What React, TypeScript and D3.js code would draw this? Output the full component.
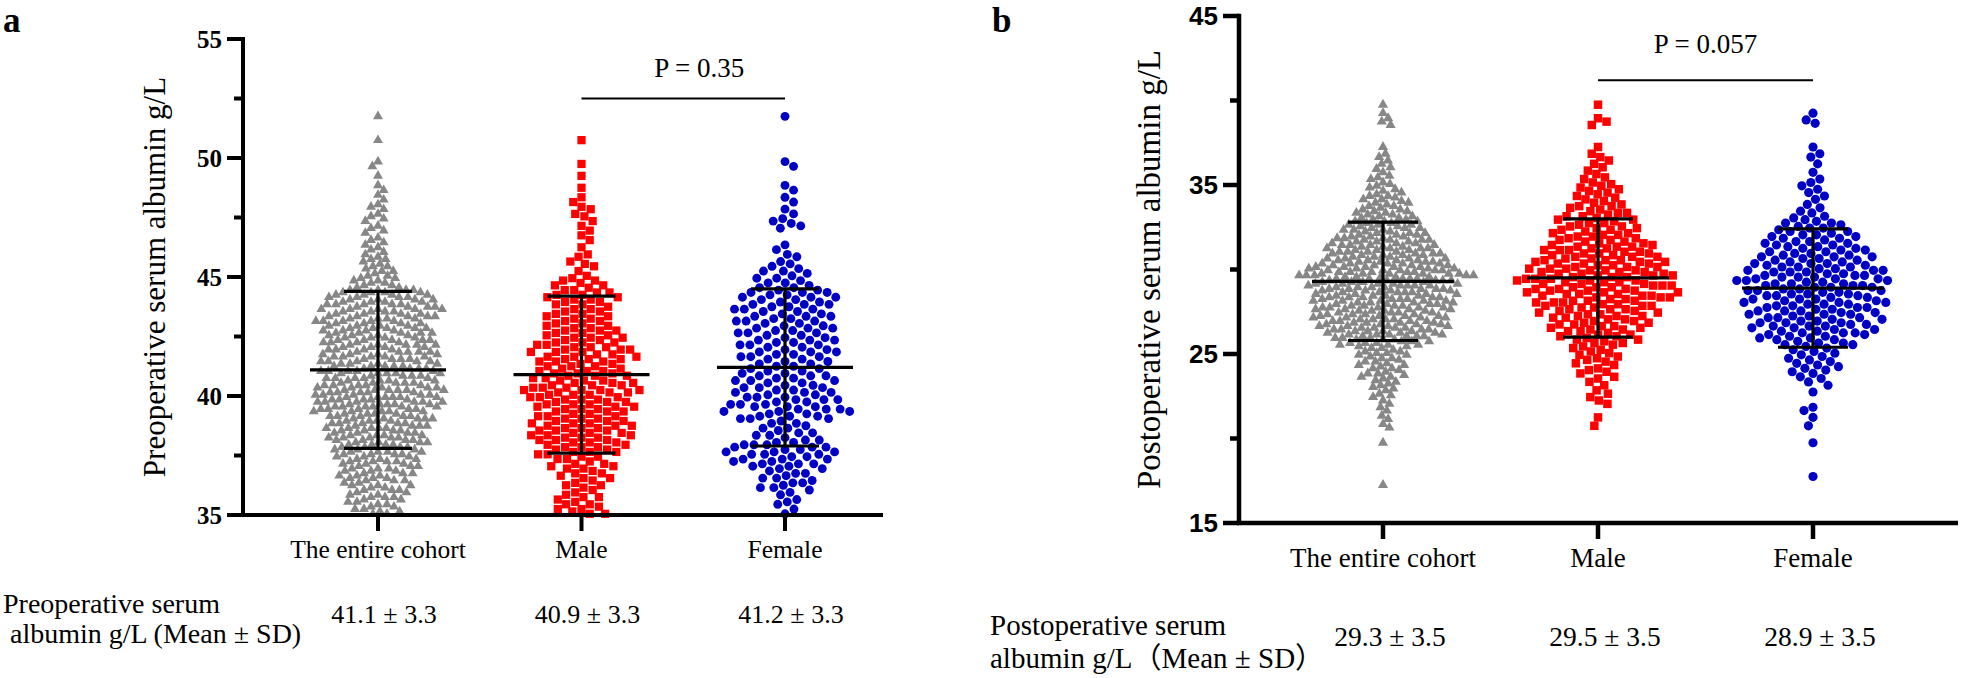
import React from 'react';
import * as d3 from 'd3';

// ---------- data ----------
const groups = ['The entire cohort', 'Male', 'Female'];
const BIN = 0.5; // g/L per histogram bin (counts)

// Preoperative (panel a) point counts per 0.5 g/L bin, starting at *Start
const preCohortStart = 35;
const preCohortCounts = [10, 11, 13, 15, 16, 19, 21, 22, 24, 28, 26, 23, 23, 22, 22, 22, 22, 22, 20, 10, 8, 6, 5, 4, 4, 4, 3, 2, 1, 2, 0, 1, 0, 1];
const preMaleStart = 35;
const preMaleCounts = [8, 6, 6, 8, 9, 12, 15, 15, 14, 15, 16, 14, 13, 14, 13, 11, 10, 9, 10, 7, 3, 4, 1, 3, 2, 4, 2, 1, 1, 1, 0, 1];
const preFemaleStart = 35;
const preFemaleCounts = [3, 4, 7, 8, 12, 14, 9, 7, 14, 14, 12, 12, 10, 12, 12, 12, 12, 12, 12, 8, 6, 4, 2, 0, 5, 2, 2, 2, 0, 2, 0, 0, 0, 1];

// Postoperative (panel b)
const postCohortStart = 17;
const postCohortCounts = [1, 0, 0, 0, 0, 1, 0, 2, 2, 2, 3, 4, 5, 7, 7, 8, 9, 15, 19, 20, 20, 21, 22, 22, 24, 26, 22, 19, 18, 16, 14, 12, 10, 8, 7, 5, 4, 3, 3, 2, 1, 0, 0, 3, 1, 1];
const postMaleStart = 20.5;
const postMaleCounts = [1, 1, 0, 3, 2, 2, 4, 4, 5, 5, 7, 9, 10, 11, 12, 14, 15, 15, 15, 14, 13, 12, 10, 9, 8, 7, 6, 5, 5, 4, 2, 3, 2, 1, 0, 0, 3, 0, 1];
const postFemaleStart = 17.5;
const postFemaleCounts = [1, 0, 0, 0, 1, 0, 1, 1, 2, 0, 1, 2, 4, 5, 5, 5, 9, 11, 12, 12, 13, 13, 13, 14, 14, 12, 11, 10, 9, 8, 6, 4, 2, 2, 3, 2, 1, 1, 2, 1, 0, 0, 2, 1];

const preMeans = [41.1, 40.9, 41.2];
const preSDs = [3.3, 3.3, 3.3];
const postMeans = [29.3, 29.5, 28.9];
const postSDs = [3.5, 3.5, 3.5];

const preTicks = [35, 40, 45, 50, 55];
const preMinorTicks = [37.5, 42.5, 47.5, 52.5];
const postTicks = [15, 25, 35, 45];
const postMinorTicks = [20, 30, 40];

const preStatLabels = ['41.1 ± 3.3', '40.9 ± 3.3', '41.2 ± 3.3'];
const postStatLabels = ['29.3 ± 3.5', '29.5 ± 3.5', '28.9 ± 3.5'];
const preP = 'P = 0.35';
const postP = 'P = 0.057';

// ---------- helpers ----------
function expand(start: number, counts: number[]): number[] {
  const vals: number[] = [];
  counts.forEach((n, i) => {
    const lo = start + i * BIN;
    for (let j = 0; j < n; j++) {
      const k = Math.floor(((j + 0.5) * 5) / n);
      vals.push(lo + 0.1 * k + 0.05);
    }
  });
  return vals;
}

function swarm(ys: number[], d: number): number[] {
  const idx = ys.map((_, i) => i).sort((a, b) => ys[a] - ys[b]);
  const placed: { x: number; y: number }[] = [];
  const xs = new Array(ys.length).fill(0);
  let flip = 1;
  for (const i of idx) {
    const y = ys[i];
    const near = placed.filter((p) => Math.abs(p.y - y) < d);
    const cands = [0];
    for (const p of near) {
      const dx = Math.sqrt(d * d - (p.y - y) * (p.y - y));
      cands.push(p.x + dx, p.x - dx);
    }
    let best = Infinity;
    let bx = 0;
    for (const c of cands) {
      const a = Math.abs(c);
      if (a > best + 1e-6) continue;
      let ok = true;
      for (const p of near) {
        if ((p.x - c) * (p.x - c) + (p.y - y) * (p.y - y) < d * d - 1e-3) {
          ok = false;
          break;
        }
      }
      if (!ok) continue;
      if (a < best - 1e-6 || Math.sign(c) === flip) {
        best = a;
        bx = c;
      }
    }
    flip = -flip;
    xs[i] = bx;
    placed.push({ x: bx, y });
  }
  return xs;
}

const SERIF = "'Liberation Serif', 'Times New Roman', 'Noto Sans CJK SC', serif";
const SANS = "'Liberation Sans', Arial, sans-serif";

type PanelCfg = {
  yDomain: [number, number];
  yRange: [number, number];
  axisX: number;
  axisRight: number;
  xRange: [number, number];
  ticks: number[];
  minor: number[];
  tickFont: string;
  tickSize: number;
  tickLabelRight: number;
  series: { start: number; counts: number[] }[];
  means: number[];
  sds: number[];
  meanHalf: number;
  capHalf: number;
  dists: number[];
  sizes: number[];
  statLabels: string[];
  statY: number;
  statDx: number;
  pText: string;
  pLineVal: number;
  pTextVal: number;
  pTextDx: number;
  groupLabelY: number;
  groupFont: number;
  yLabel: string;
  yLabelX: number;
  yLabelFont: number;
  axisW: number;
};

const colors = ['#878787', '#ff0000', '#0000c4'];
const shapes = [d3.symbolTriangle, d3.symbolSquare, d3.symbolCircle];

function Panel({ c }: { c: PanelCfg }) {
  const y = d3.scaleLinear().domain(c.yDomain).range(c.yRange);
  const x = d3.scalePoint<string>().domain(groups).range(c.xRange);
  const [y0, y1] = c.yRange; // bottom, top
  const points = c.series.map((s, gi) => {
    const vals = expand(s.start, s.counts);
    const ys = vals.map((v) => y(v));
    const xs = swarm(ys, c.dists[gi]);
    const path = d3.symbol().type(shapes[gi]).size(c.sizes[gi])() as string;
    return { ys, xs, path, gi };
  });
  const midY = (y0 + y1) / 2;
  return (
    <g>
      {points.map((p) => (
        <g key={p.gi} fill={colors[p.gi]}>
          {p.ys.map((yy, i) => (
            <path key={i} d={p.path} transform={`translate(${(x(groups[p.gi]) as number) + p.xs[i]},${yy})`} />
          ))}
        </g>
      ))}
      {/* error bars */}
      {groups.map((g, gi) => {
        const cx = x(g) as number;
        const m = c.means[gi];
        const s = c.sds[gi];
        return (
          <g key={g} stroke="#000" strokeWidth={3.2}>
            <line x1={cx} x2={cx} y1={y(m - s)} y2={y(m + s)} />
            <line x1={cx - c.meanHalf} x2={cx + c.meanHalf} y1={y(m)} y2={y(m)} />
            <line x1={cx - c.capHalf} x2={cx + c.capHalf} y1={y(m + s)} y2={y(m + s)} />
            <line x1={cx - c.capHalf} x2={cx + c.capHalf} y1={y(m - s)} y2={y(m - s)} />
          </g>
        );
      })}
      {/* axes */}
      <g stroke="#000" strokeWidth={c.axisW}>
        <line x1={c.axisX} x2={c.axisX} y1={y1 - c.axisW / 2} y2={y0} />
        <line x1={c.axisX - c.axisW / 2} x2={c.axisRight} y1={y0} y2={y0} />
        {c.ticks.map((t) => (
          <line key={t} x1={c.axisX - 16} x2={c.axisX} y1={y(t)} y2={y(t)} />
        ))}
        {c.minor.map((t) => (
          <line key={t} x1={c.axisX - 9} x2={c.axisX} y1={y(t)} y2={y(t)} />
        ))}
        {groups.map((g) => (
          <line key={g} x1={x(g) as number} x2={x(g) as number} y1={y0} y2={y0 + 16} />
        ))}
      </g>
      {c.ticks.map((t) => (
        <text key={t} x={c.tickLabelRight} y={y(t)} dy="0.35em" textAnchor="end" fontFamily={c.tickFont} fontWeight="bold" fontSize={c.tickSize}>
          {t}
        </text>
      ))}
      {groups.map((g) => (
        <text key={g} x={x(g) as number} y={c.groupLabelY} textAnchor="middle" fontFamily={SERIF} fontSize={c.groupFont}>
          {g}
        </text>
      ))}
      <text transform={`translate(${c.yLabelX},${midY}) rotate(-90)`} textAnchor="middle" fontFamily={SERIF} fontSize={c.yLabelFont}>
        {c.yLabel}
      </text>
      {/* P value */}
      <line x1={x('Male') as number} x2={x('Female') as number} y1={y(c.pLineVal)} y2={y(c.pLineVal)} stroke="#000" strokeWidth={2} />
      <text x={((x('Male') as number) + (x('Female') as number)) / 2 + c.pTextDx} y={y(c.pTextVal)} textAnchor="middle" fontFamily={SERIF} fontSize={27}>
        {c.pText}
      </text>
      {/* stats row */}
      {groups.map((g, gi) => (
        <text key={g} x={(x(g) as number) + c.statDx} y={c.statY} textAnchor="middle" fontFamily={SERIF} fontSize={c.groupFont + 0.5}>
          {c.statLabels[gi]}
        </text>
      ))}
    </g>
  );
}

const panelA: PanelCfg = {
  yDomain: [35, 55],
  yRange: [515, 39],
  axisX: 243,
  axisRight: 883,
  xRange: [378, 785],
  ticks: preTicks,
  minor: preMinorTicks,
  tickFont: SERIF,
  tickSize: 25,
  tickLabelRight: 222,
  series: [
    { start: preCohortStart, counts: preCohortCounts },
    { start: preMaleStart, counts: preMaleCounts },
    { start: preFemaleStart, counts: preFemaleCounts },
  ],
  means: preMeans,
  sds: preSDs,
  meanHalf: 68,
  capHalf: 34,
  dists: [7.4, 9.5, 9.8],
  sizes: [43, 68, 62],
  statLabels: preStatLabels,
  statY: 623,
  statDx: 6,
  pText: preP,
  pLineVal: 52.5,
  pTextVal: 53.4,
  pTextDx: 16,
  groupLabelY: 558,
  groupFont: 25.5,
  yLabel: 'Preoperative serum albumin g/L',
  yLabelX: 165,
  yLabelFont: 31,
  axisW: 4,
};

const panelB: PanelCfg = {
  yDomain: [15, 45],
  yRange: [523, 16],
  axisX: 1239,
  axisRight: 1958,
  xRange: [1383, 1813],
  ticks: postTicks,
  minor: postMinorTicks,
  tickFont: SANS,
  tickSize: 26,
  tickLabelRight: 1218,
  series: [
    { start: postCohortStart, counts: postCohortCounts },
    { start: postMaleStart, counts: postMaleCounts },
    { start: postFemaleStart, counts: postFemaleCounts },
  ],
  means: postMeans,
  sds: postSDs,
  meanHalf: 71,
  capHalf: 35,
  dists: [7.2, 9.2, 9.6],
  sizes: [45, 72, 66],
  statLabels: postStatLabels,
  statY: 646,
  statDx: 7,
  pText: postP,
  pLineVal: 41.2,
  pTextVal: 42.8,
  pTextDx: 0,
  groupLabelY: 567,
  groupFont: 27,
  yLabel: 'Postoperative serum albumin g/L',
  yLabelX: 1160,
  yLabelFont: 33,
  axisW: 4.5,
};

export default function App() {
  return (
    <svg
      width={1961}
      height={678}
      viewBox="0 0 1961 678"
      style={{ position: 'absolute', left: 0, top: 0, background: '#fff' }}
    >
      <rect width={1961} height={678} fill="#fff" />
      <text x={3} y={32} fontFamily={SERIF} fontWeight="bold" fontSize={35}>a</text>
      <text x={992} y={32} fontFamily={SERIF} fontWeight="bold" fontSize={35}>b</text>
      <Panel c={panelA} />
      <Panel c={panelB} />
      <text fontFamily={SERIF} fontSize={28}>
        <tspan x={3} y={613}>Preoperative serum</tspan>
        <tspan x={10} y={643}>albumin g/L (Mean ± SD)</tspan>
      </text>
      <text fontFamily={SERIF} fontSize={29}>
        <tspan x={990} y={635}>Postoperative serum</tspan>
        <tspan x={990} y={668}>albumin g/L（Mean ± SD）</tspan>
      </text>
    </svg>
  );
}
